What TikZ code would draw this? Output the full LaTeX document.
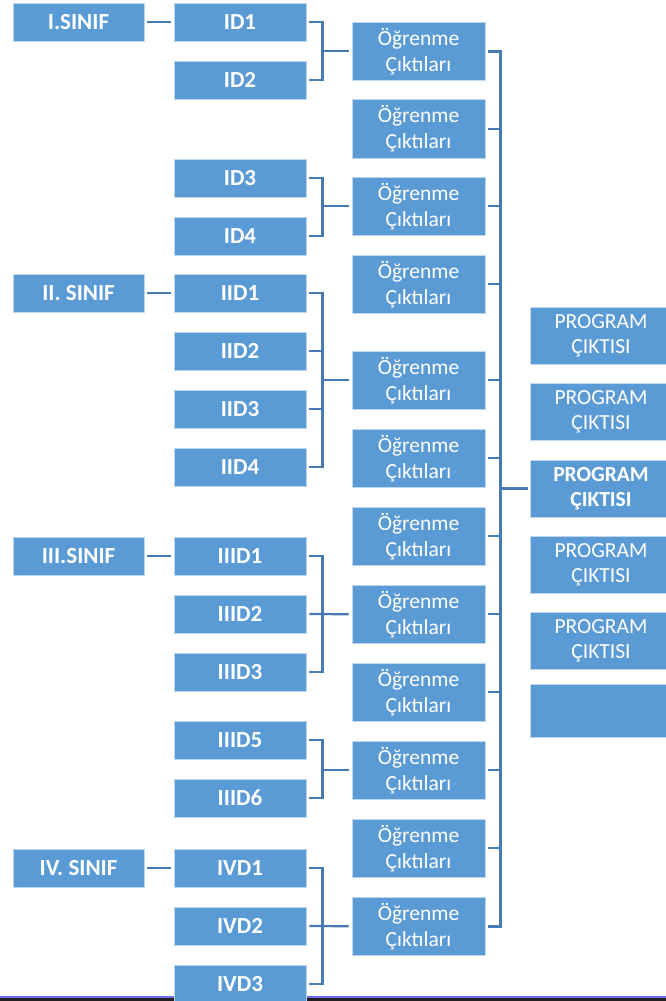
\documentclass[tikz,border=0pt]{standalone}
\usepackage{fontspec}
\setmainfont{Carlito}
\definecolor{boxblue}{RGB}{91,155,213}
\definecolor{boxedge}{RGB}{190,215,238}
\definecolor{linkblue}{RGB}{70,122,180}
\definecolor{barblue}{RGB}{110,110,240}
\definecolor{bardark}{RGB}{35,31,32}
\tikzset{
  box/.style={rectangle, fill=boxblue, draw=boxedge, line width=0.8pt, inner sep=0pt, text=white, align=center},
  sbox/.style={box, minimum width=131pt, minimum height=38pt, font=\fontsize{23}{27}\selectfont\bfseries},
  dbox/.style={box, minimum width=132pt, minimum height=38pt, font=\fontsize{23}{27}\selectfont\bfseries},
  obox/.style={box, minimum width=133pt, minimum height=58.5pt, font=\fontsize{21.5}{26}\selectfont},
  pbox/.style={box, minimum width=142pt, minimum height=57pt, font=\fontsize{21.5}{25}\selectfont},
  conn/.style={draw=linkblue, line width=2.2pt},
  conn2/.style={draw=linkblue, line width=3pt},
}
\begin{document}
\begin{tikzpicture}[x=1pt,y=-1pt]
\useasboundingbox (0,0) rectangle (666,1001);
\fill[white] (0,0) rectangle (666,1001);
% bottom bars
\fill[barblue] (0,995.5) rectangle (666,998);
\fill[bardark] (0,998) rectangle (666,1001);
% SINIF boxes
\node[sbox] (s1) at (78.5,22) {I.SINIF};
\node[sbox] (s2) at (78.5,293) {II. SINIF};
\node[sbox] (s3) at (78.5,556) {III.SINIF};
\node[sbox] (s4) at (78.5,868) {IV. SINIF};
% D boxes
\node[dbox] (d1) at (240,22) {ID1};
\node[dbox] (d2) at (240,80) {ID2};
\node[dbox] (d3) at (240,178) {ID3};
\node[dbox] (d4) at (240,236) {ID4};
\node[dbox] (d5) at (240,293) {IID1};
\node[dbox] (d6) at (240,351) {IID2};
\node[dbox] (d7) at (240,409) {IID3};
\node[dbox] (d8) at (240,467) {IID4};
\node[dbox] (d9) at (240,556) {IIID1};
\node[dbox] (d10) at (240,614) {IIID2};
\node[dbox] (d11) at (240,672) {IIID3};
\node[dbox] (d12) at (240,740) {IIID5};
\node[dbox] (d13) at (240,798) {IIID6};
\node[dbox] (d14) at (240,868) {IVD1};
\node[dbox] (d15) at (240,926) {IVD2};
\node[dbox] (d16) at (240,984) {IVD3};
% OC boxes
\foreach \n/\y in {1/51.25,2/128.75,3/206.25,4/284.25,5/380.25,6/458.25,7/536.25,8/614.25,9/692.25,10/770.25,11/848.25,12/926.25}
  \node[obox] (o\n) at (418.5,\y) {Öğrenme\\Çıktıları};
% PC boxes
\node[pbox] (p1) at (601,335.5) {PROGRAM\\ÇIKTISI};
\node[pbox] (p2) at (601,412) {PROGRAM\\ÇIKTISI};
\node[pbox, font=\fontsize{21.5}{25}\selectfont\bfseries] (p3) at (601,488.5) {PROGRAM\\ÇIKTISI};
\node[pbox] (p4) at (601,564.5) {PROGRAM\\ÇIKTISI};
\node[pbox] (p5) at (601,640.5) {PROGRAM\\ÇIKTISI};
\node[pbox, minimum height=53pt] (p6) at (601.5,710.5) {};
% SINIF -> D
\foreach \s/\d in {s1/d1,s2/d5,s3/d9,s4/d14}
  \draw[conn] ([xshift=3pt]\s.east) -- ([xshift=-3pt]\d.west);
% D brackets -> OC
\draw[conn] ([xshift=3pt]d1.east) -- ([xshift=16pt]d1.east) -- ([xshift=16pt]d2.east) -- ([xshift=3pt]d2.east);
\draw[conn] ([xshift=16pt]d1.east |- o1.west) -- ([xshift=-3pt]o1.west);
\draw[conn] ([xshift=3pt]d3.east) -- ([xshift=16pt]d3.east) -- ([xshift=16pt]d4.east) -- ([xshift=3pt]d4.east);
\draw[conn] ([xshift=16pt]d3.east |- o3.west) -- ([xshift=-3pt]o3.west);
\draw[conn] ([xshift=3pt]d5.east) -- ([xshift=16pt]d5.east) -- ([xshift=16pt]d8.east) -- ([xshift=3pt]d8.east);
\draw[conn] ([xshift=3pt]d6.east) -- ([xshift=16pt]d6.east);
\draw[conn] ([xshift=3pt]d7.east) -- ([xshift=16pt]d7.east);
\draw[conn] ([xshift=16pt]d5.east |- o5.west) -- ([xshift=-3pt]o5.west);
\draw[conn] ([xshift=3pt]d9.east) -- ([xshift=16pt]d9.east) -- ([xshift=16pt]d11.east) -- ([xshift=3pt]d11.east);
\draw[conn] ([xshift=3pt]d10.east) -- ([xshift=-3pt]o8.west);
\draw[conn] ([xshift=3pt]d12.east) -- ([xshift=16pt]d12.east) -- ([xshift=16pt]d13.east) -- ([xshift=3pt]d13.east);
\draw[conn] ([xshift=16pt]d12.east |- o10.west) -- ([xshift=-3pt]o10.west);
\draw[conn] ([xshift=3pt]d14.east) -- ([xshift=16pt]d14.east) -- ([xshift=16pt]d16.east) -- ([xshift=3pt]d16.east);
\draw[conn] ([xshift=3pt]d15.east) -- ([xshift=-3pt]o12.west);
% OC bracket -> PC
\draw[conn2] ([xshift=3pt]o1.east) -- ([xshift=15pt]o1.east) -- ([xshift=15pt]o12.east) -- ([xshift=3pt]o12.east);
\foreach \n in {2,...,11}
  \draw[conn] ([xshift=3pt]o\n.east) -- ([xshift=15pt]o\n.east);
\draw[conn2] ([xshift=15pt]o1.east |- p3.west) -- ([xshift=-2pt]p3.west);
\end{tikzpicture}
\end{document}
